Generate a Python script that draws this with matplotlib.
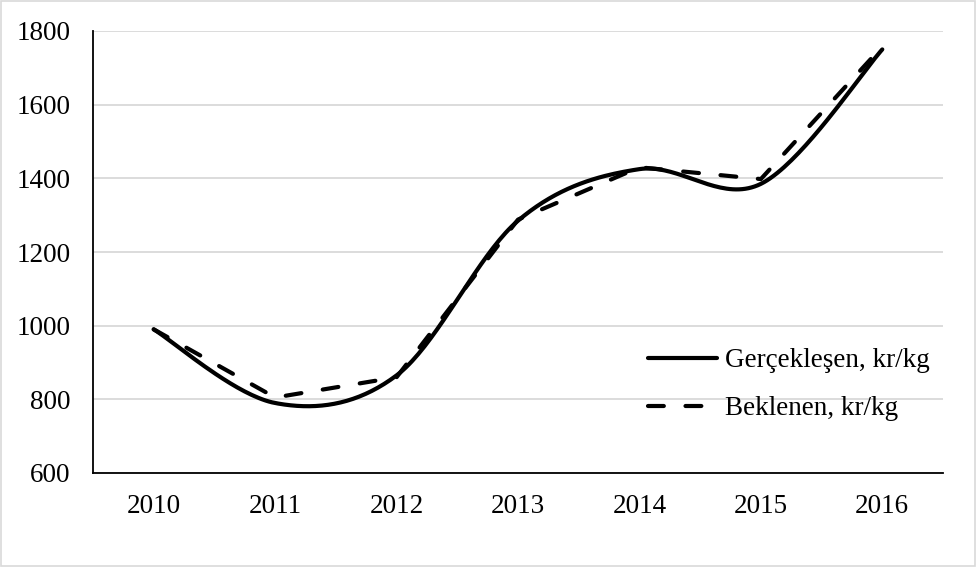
import numpy as np
import matplotlib
matplotlib.use("Agg")
import matplotlib.pyplot as plt
from matplotlib.patches import Rectangle

years = ["2010", "2011", "2012", "2013", "2014", "2015", "2016"]
gerceklesen = [990, 790, 865, 1285, 1425, 1385, 1750]
beklenen = [990, 805, 860, 1288, 1430, 1398, 1758]
labels = ["Gerçekleşen, kr/kg", "Beklenen, kr/kg"]
yticks = [600, 800, 1000, 1200, 1400, 1600, 1800]


def smooth(xs, ys, n=40):
    """Excel-like smoothed line (cubic Bezier with Catmull-Rom control points)."""
    P = np.column_stack([xs, ys]).astype(float)
    out = []
    m = len(P)
    t = np.linspace(0, 1, n)[:, None]
    for i in range(m - 1):
        p0 = P[i]
        p3 = P[i + 1]
        pm = P[i - 1] if i > 0 else P[i]
        pp = P[i + 2] if i + 2 < m else P[i + 1]
        c1 = p0 + (p3 - pm) / 6.0
        c2 = p3 - (pp - p0) / 6.0
        seg = ((1 - t) ** 3) * p0 + 3 * ((1 - t) ** 2) * t * c1 + 3 * (1 - t) * t ** 2 * c2 + t ** 3 * p3
        out.append(seg if i == 0 else seg[1:])
    seg = np.vstack(out)
    return seg[:, 0], seg[:, 1]


plt.rcParams['font.family'] = ['Liberation Serif', 'DejaVu Serif']

fig = plt.figure(figsize=(9.77, 5.67), dpi=100)
ax = fig.add_axes([93 / 977, (567 - 473) / 567, (943 - 93) / 977, (473 - 31) / 567])

x = np.arange(len(years))
sx, sy = smooth(x, gerceklesen)
ax.plot(sx, sy, color='black', lw=3.0, solid_capstyle='round', solid_joinstyle='round',
        label=labels[0], zorder=3)
ax.plot(x, beklenen, color='black', lw=3.0, dashes=(3.8, 5.2), dash_capstyle='round',
        dash_joinstyle='round', label=labels[1], zorder=3)

ax.set_xlim(-0.5, len(years) - 0.5)
ax.set_ylim(600, 1800)
ax.set_yticks(yticks)
ax.set_yticklabels([str(v) for v in yticks])
ax.set_xticks(x)
ax.set_xticklabels(years)
ax.tick_params(axis='both', length=0, labelsize=19.5)
ax.tick_params(axis='x', pad=15)
ax.tick_params(axis='y', pad=16)
ax.grid(axis='y', color='#d9d9d9', lw=1.3, zorder=0)
ax.set_axisbelow(True)
for s in ['top', 'right']:
    ax.spines[s].set_visible(False)
for s in ['left', 'bottom']:
    ax.spines[s].set_color('black')
    ax.spines[s].set_linewidth(1.3)

leg = ax.legend(loc='upper left', bbox_to_anchor=(648 / 977, 1 - 348 / 567),
                bbox_transform=fig.transFigure, frameon=False, fontsize=19.5,
                handlelength=2.55, handletextpad=0.3, labelspacing=0.85, borderpad=0,
                borderaxespad=0)

fig.patches.append(Rectangle((0.001, 0.002), 0.997, 0.996, transform=fig.transFigure,
                             fill=False, edgecolor='#d9d9d9', lw=1.2))

fig.savefig('out.png', dpi=100, facecolor='white')
